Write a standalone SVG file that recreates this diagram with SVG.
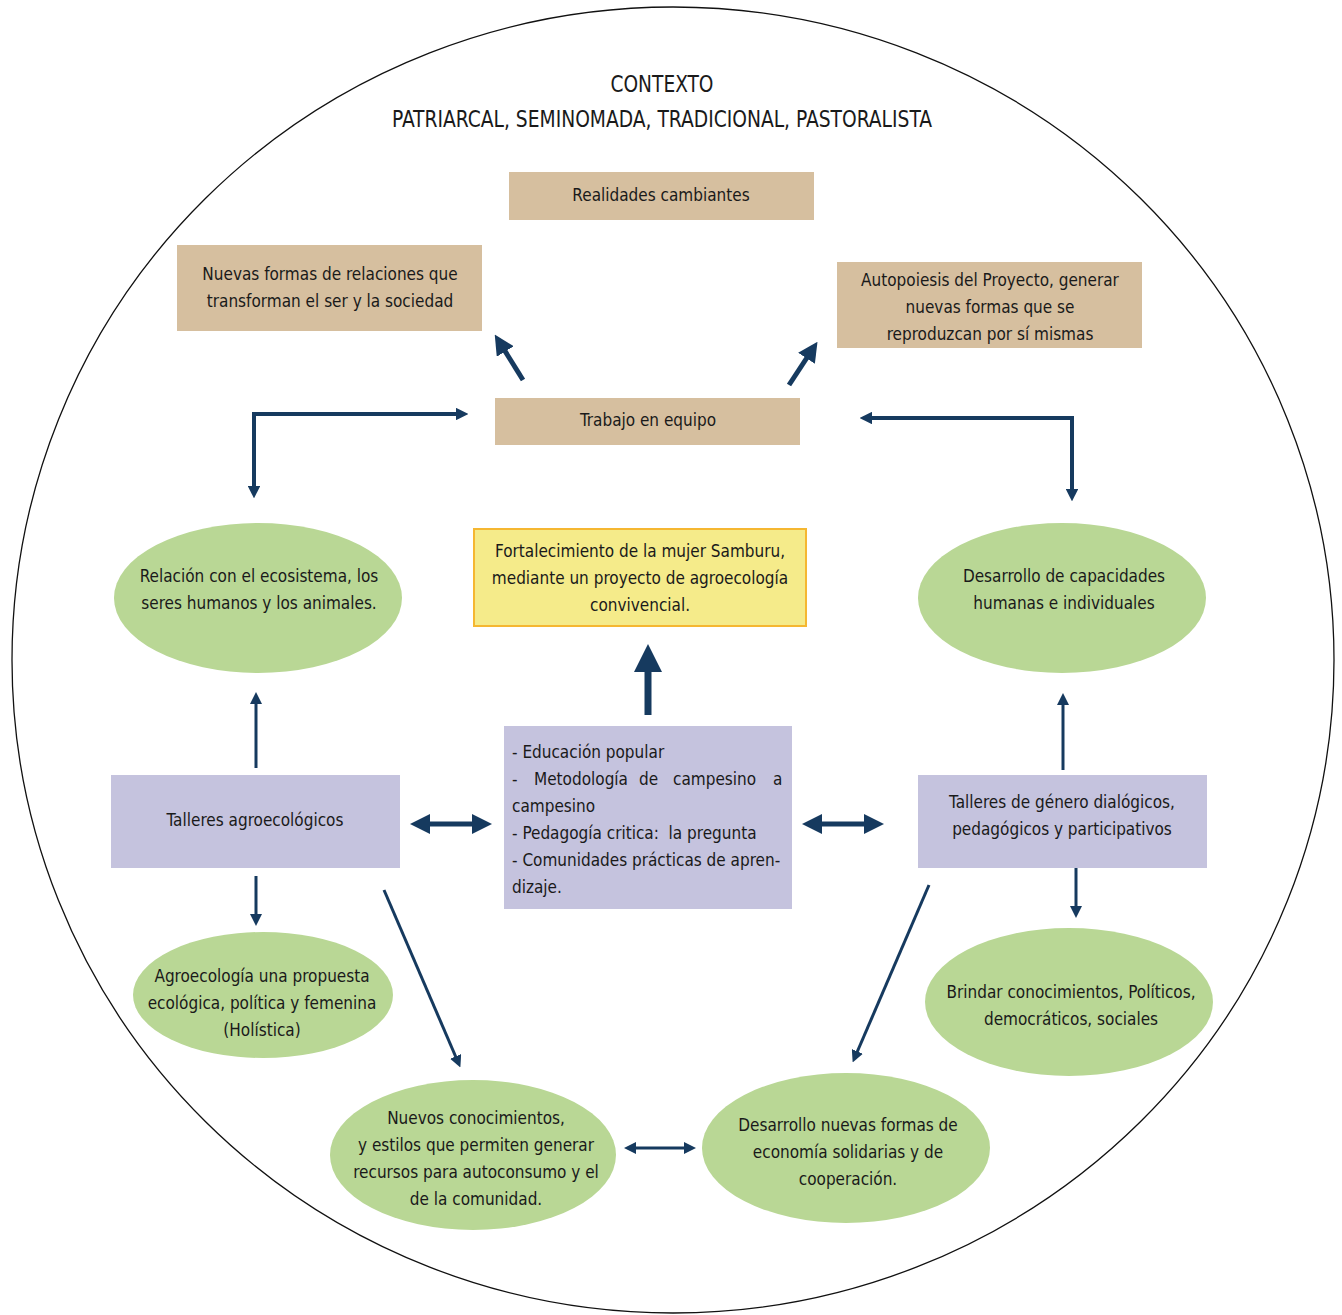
<svg xmlns="http://www.w3.org/2000/svg" width="1342" height="1315" viewBox="0 0 1342 1315">
<defs>
<style>
text{font-family:"DejaVu Sans Condensed","Liberation Sans Narrow","Roboto Condensed","Liberation Sans",sans-serif;font-stretch:condensed;fill:#1a1a1a;font-size:17px}
.c{text-anchor:middle}
.tan{fill:#D6BF9F}
.lav{fill:#C5C3DE}
.grn{fill:#B9D795}
.ln{stroke:#163A5F;fill:none}
.hd{fill:#163A5F}
</style>
<marker id="ah" viewBox="0 0 10 10" refX="5" refY="5" markerWidth="4" markerHeight="4" orient="auto-start-reverse" markerUnits="strokeWidth"><path d="M0,0 L10,5 L0,10 z" class="hd"/></marker>
<marker id="ah2" viewBox="0 0 10 10" refX="5" refY="5" markerWidth="3.2" markerHeight="3.2" orient="auto-start-reverse" markerUnits="strokeWidth"><path d="M0,0 L10,5 L0,10 z" class="hd"/></marker>
</defs>
<rect width="1342" height="1315" fill="#fff"/>
<ellipse cx="673" cy="660" rx="661" ry="653" fill="none" stroke="#111" stroke-width="1.3"/>
<g id="title">
<text x="662" y="92" class="c" style="font-size:23px" textLength="103" lengthAdjust="spacingAndGlyphs">CONTEXTO</text>
<text x="662" y="127" class="c" style="font-size:23px" textLength="540" lengthAdjust="spacingAndGlyphs">PATRIARCAL, SEMINOMADA, TRADICIONAL, PASTORALISTA</text>
</g>
<g id="connectors">
<line x1="523" y1="380" x2="500" y2="343" class="ln" stroke-width="5" marker-end="url(#ah)"/>
<line x1="789" y1="385" x2="812" y2="350" class="ln" stroke-width="5" marker-end="url(#ah)"/>
<polyline points="254,492 254,414 462,414" class="ln" stroke-width="4" marker-start="url(#ah2)" marker-end="url(#ah2)"/>
<polyline points="866,418 1072,418 1072,495" class="ln" stroke-width="4" marker-start="url(#ah2)" marker-end="url(#ah2)"/>
<line x1="648" y1="715" x2="648" y2="658" class="ln" stroke-width="7" marker-end="url(#ah)"/>
<line x1="256" y1="768" x2="256" y2="698" class="ln" stroke-width="3" marker-end="url(#ah)"/>
<line x1="256" y1="876" x2="256" y2="920" class="ln" stroke-width="3" marker-end="url(#ah)"/>
<line x1="384" y1="890" x2="458" y2="1062" class="ln" stroke-width="3" marker-end="url(#ah)"/>
<line x1="420" y1="824" x2="482" y2="824" class="ln" stroke-width="5" marker-start="url(#ah)" marker-end="url(#ah)"/>
<line x1="812" y1="824" x2="874" y2="824" class="ln" stroke-width="5" marker-start="url(#ah)" marker-end="url(#ah)"/>
<line x1="1063" y1="770" x2="1063" y2="699" class="ln" stroke-width="3" marker-end="url(#ah)"/>
<line x1="1076" y1="868" x2="1076" y2="912" class="ln" stroke-width="3" marker-end="url(#ah)"/>
<line x1="929" y1="885" x2="855" y2="1057" class="ln" stroke-width="3" marker-end="url(#ah)"/>
<line x1="630" y1="1148" x2="690" y2="1148" class="ln" stroke-width="3" marker-start="url(#ah)" marker-end="url(#ah)"/>
</g>
<g id="realidades">
<rect x="509" y="172" width="305" height="48" class="tan"/>
<text x="661" y="201" class="c">Realidades cambiantes</text>
</g>
<g id="nuevas-formas">
<rect x="177" y="245" width="305" height="86" class="tan"/>
<text x="330" y="280" class="c">Nuevas formas de relaciones que</text>
<text x="330" y="307" class="c">transforman el ser y la sociedad</text>
</g>
<g id="autopoiesis">
<rect x="837" y="262" width="305" height="86" class="tan"/>
<text x="990" y="286" class="c">Autopoiesis del Proyecto, generar</text>
<text x="990" y="313" class="c">nuevas formas que se</text>
<text x="990" y="340" class="c">reproduzcan por sí mismas</text>
</g>
<g id="trabajo">
<rect x="495" y="398" width="305" height="47" class="tan"/>
<text x="648" y="426" class="c">Trabajo en equipo</text>
</g>
<g id="fortalecimiento">
<rect x="474" y="529" width="332" height="97" fill="#F5EB8A" stroke="#F5B731" stroke-width="2"/>
<text x="640" y="557" class="c">Fortalecimiento de la mujer Samburu,</text>
<text x="640" y="584" class="c">mediante un proyecto de agroecología</text>
<text x="640" y="611" class="c">convivencial.</text>
</g>
<g id="relacion">
<ellipse cx="258" cy="598" rx="144" ry="75" class="grn"/>
<text x="259" y="582" class="c">Relación con el ecosistema, los</text>
<text x="259" y="609" class="c">seres humanos y los animales.</text>
</g>
<g id="capacidades">
<ellipse cx="1062" cy="598" rx="144" ry="75" class="grn"/>
<text x="1064" y="582" class="c">Desarrollo de capacidades</text>
<text x="1064" y="609" class="c">humanas e individuales</text>
</g>
<g id="talleres-agro">
<rect x="111" y="775" width="289" height="93" class="lav"/>
<text x="255" y="826" class="c">Talleres agroecológicos</text>
</g>
<g id="metodos">
<rect x="504" y="726" width="288" height="183" class="lav"/>
<text x="512" y="758">- Educación popular</text>
<text y="785"><tspan x="512">-</tspan><tspan x="534">Metodología</tspan><tspan x="639">de</tspan><tspan x="673">campesino</tspan><tspan x="773">a</tspan></text>
<text x="512" y="812">campesino</text>
<text x="512" y="839" style="white-space:pre">- Pedagogía critica:  la pregunta</text>
<text x="512" y="866">- Comunidades prácticas de apren-</text>
<text x="512" y="893">dizaje.</text>
</g>
<g id="talleres-genero">
<rect x="918" y="775" width="289" height="93" class="lav"/>
<text x="1062" y="808" class="c">Talleres de género dialógicos,</text>
<text x="1062" y="835" class="c">pedagógicos y participativos</text>
</g>
<g id="agroecologia">
<ellipse cx="263" cy="995" rx="130" ry="63" class="grn"/>
<text x="262" y="982" class="c">Agroecología una propuesta</text>
<text x="262" y="1009" class="c">ecológica, política y femenina</text>
<text x="262" y="1036" class="c">(Holística)</text>
</g>
<g id="brindar">
<ellipse cx="1069" cy="1002" rx="144" ry="74" class="grn"/>
<text x="1071" y="998" class="c">Brindar conocimientos, Políticos,</text>
<text x="1071" y="1025" class="c">democráticos, sociales</text>
</g>
<g id="nuevos-conocimientos">
<ellipse cx="473" cy="1155" rx="143" ry="75" class="grn"/>
<text x="476" y="1124" class="c">Nuevos conocimientos,</text>
<text x="476" y="1151" class="c">y estilos que permiten generar</text>
<text x="476" y="1178" class="c">recursos para autoconsumo y el</text>
<text x="476" y="1205" class="c">de la comunidad.</text>
</g>
<g id="economia">
<ellipse cx="846" cy="1148" rx="144" ry="75" class="grn"/>
<text x="848" y="1131" class="c">Desarrollo nuevas formas de</text>
<text x="848" y="1158" class="c">economía solidarias y de</text>
<text x="848" y="1185" class="c">cooperación.</text>
</g>
</svg>
